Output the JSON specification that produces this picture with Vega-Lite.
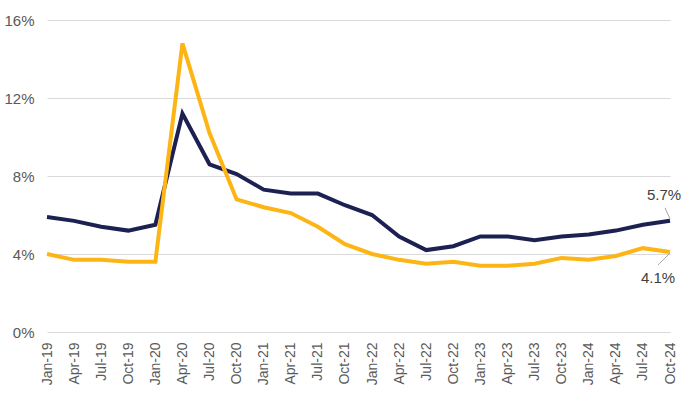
{
  "$schema": "https://vega.github.io/schema/vega-lite/v6.json",
  "width": 623,
  "height": 312,
  "autosize": {"type": "none"},
  "padding": {"left": 47, "top": 20, "right": 18, "bottom": 63},
  "background": "white",
  "config": {
    "view": {"stroke": null},
    "font": "Liberation Sans"
  },
  "datasets": {
    "rates": [
      {"q": "Jan-19", "series": "A", "v": 5.9}, {"q": "Apr-19", "series": "A", "v": 5.7}, {"q": "Jul-19", "series": "A", "v": 5.4}, {"q": "Oct-19", "series": "A", "v": 5.2},
      {"q": "Jan-20", "series": "A", "v": 5.5}, {"q": "Apr-20", "series": "A", "v": 11.2}, {"q": "Jul-20", "series": "A", "v": 8.6}, {"q": "Oct-20", "series": "A", "v": 8.1},
      {"q": "Jan-21", "series": "A", "v": 7.3}, {"q": "Apr-21", "series": "A", "v": 7.1}, {"q": "Jul-21", "series": "A", "v": 7.1}, {"q": "Oct-21", "series": "A", "v": 6.5},
      {"q": "Jan-22", "series": "A", "v": 6.0}, {"q": "Apr-22", "series": "A", "v": 4.9}, {"q": "Jul-22", "series": "A", "v": 4.2}, {"q": "Oct-22", "series": "A", "v": 4.4},
      {"q": "Jan-23", "series": "A", "v": 4.9}, {"q": "Apr-23", "series": "A", "v": 4.9}, {"q": "Jul-23", "series": "A", "v": 4.7}, {"q": "Oct-23", "series": "A", "v": 4.9},
      {"q": "Jan-24", "series": "A", "v": 5.0}, {"q": "Apr-24", "series": "A", "v": 5.2}, {"q": "Jul-24", "series": "A", "v": 5.5}, {"q": "Oct-24", "series": "A", "v": 5.7},
      {"q": "Jan-19", "series": "B", "v": 4.0}, {"q": "Apr-19", "series": "B", "v": 3.7}, {"q": "Jul-19", "series": "B", "v": 3.7}, {"q": "Oct-19", "series": "B", "v": 3.6},
      {"q": "Jan-20", "series": "B", "v": 3.6}, {"q": "Apr-20", "series": "B", "v": 14.8}, {"q": "Jul-20", "series": "B", "v": 10.2}, {"q": "Oct-20", "series": "B", "v": 6.8},
      {"q": "Jan-21", "series": "B", "v": 6.4}, {"q": "Apr-21", "series": "B", "v": 6.1}, {"q": "Jul-21", "series": "B", "v": 5.4}, {"q": "Oct-21", "series": "B", "v": 4.5},
      {"q": "Jan-22", "series": "B", "v": 4.0}, {"q": "Apr-22", "series": "B", "v": 3.7}, {"q": "Jul-22", "series": "B", "v": 3.5}, {"q": "Oct-22", "series": "B", "v": 3.6},
      {"q": "Jan-23", "series": "B", "v": 3.4}, {"q": "Apr-23", "series": "B", "v": 3.4}, {"q": "Jul-23", "series": "B", "v": 3.5}, {"q": "Oct-23", "series": "B", "v": 3.8},
      {"q": "Jan-24", "series": "B", "v": 3.7}, {"q": "Apr-24", "series": "B", "v": 3.9}, {"q": "Jul-24", "series": "B", "v": 4.3}, {"q": "Oct-24", "series": "B", "v": 4.1}
    ],
    "labels": [
      {"q": "Oct-24", "series": "A", "v": 5.7, "label": "5.7%"},
      {"q": "Oct-24", "series": "B", "v": 4.1, "label": "4.1%"}
    ]
  },
  "encoding": {
    "x": {
      "field": "q", "type": "ordinal", "sort": null,
      "scale": {"type": "point", "padding": 0},
      "axis": {
        "title": null, "labelAngle": -90, "labelAlign": "right", "labelBaseline": "middle",
        "labelFontSize": 14, "labelColor": "#595959", "labelPadding": 10,
        "domain": false, "ticks": false, "grid": false
      }
    },
    "y": {
      "field": "v", "type": "quantitative",
      "scale": {"domain": [0, 16], "nice": false},
      "axis": {
        "title": null, "values": [0, 4, 8, 12, 16], "labelExpr": "datum.value + '%'",
        "labelFontSize": 15, "labelColor": "#595959", "labelPadding": 13,
        "domain": false, "ticks": false, "grid": true, "gridColor": "#d9d9d9", "gridWidth": 1
      }
    }
  },
  "layer": [
    {
      "data": {"name": "rates"},
      "mark": {"type": "line", "strokeWidth": 4, "strokeJoin": "miter"},
      "encoding": {
        "color": {"field": "series", "type": "nominal", "legend": null,
          "scale": {"domain": ["A", "B"], "range": ["#1c2152", "#fdb515"]}}
      }
    },
    {
      "data": {"name": "labels"},
      "transform": [{"filter": "datum.series === 'A'"}],
      "mark": {"type": "rule", "color": "#a6a6a6", "strokeWidth": 1, "yOffset": -2, "x2Offset": -5, "y2Offset": -13},
      "encoding": {"x2": {"field": "q"}, "y2": {"field": "v"}}
    },
    {
      "data": {"name": "labels"},
      "transform": [{"filter": "datum.series === 'B'"}],
      "mark": {"type": "rule", "color": "#a6a6a6", "strokeWidth": 1, "yOffset": 1, "x2Offset": -12, "y2Offset": 13},
      "encoding": {"x2": {"field": "q"}, "y2": {"field": "v"}}
    },
    {
      "data": {"name": "labels"},
      "transform": [{"filter": "datum.series === 'A'"}],
      "mark": {"type": "text", "fontSize": 15, "color": "#404040", "dx": -6, "dy": -26, "align": "center", "baseline": "middle"},
      "encoding": {"text": {"field": "label"}}
    },
    {
      "data": {"name": "labels"},
      "transform": [{"filter": "datum.series === 'B'"}],
      "mark": {"type": "text", "fontSize": 15, "color": "#404040", "dx": -12, "dy": 26, "align": "center", "baseline": "middle"},
      "encoding": {"text": {"field": "label"}}
    }
  ]
}
